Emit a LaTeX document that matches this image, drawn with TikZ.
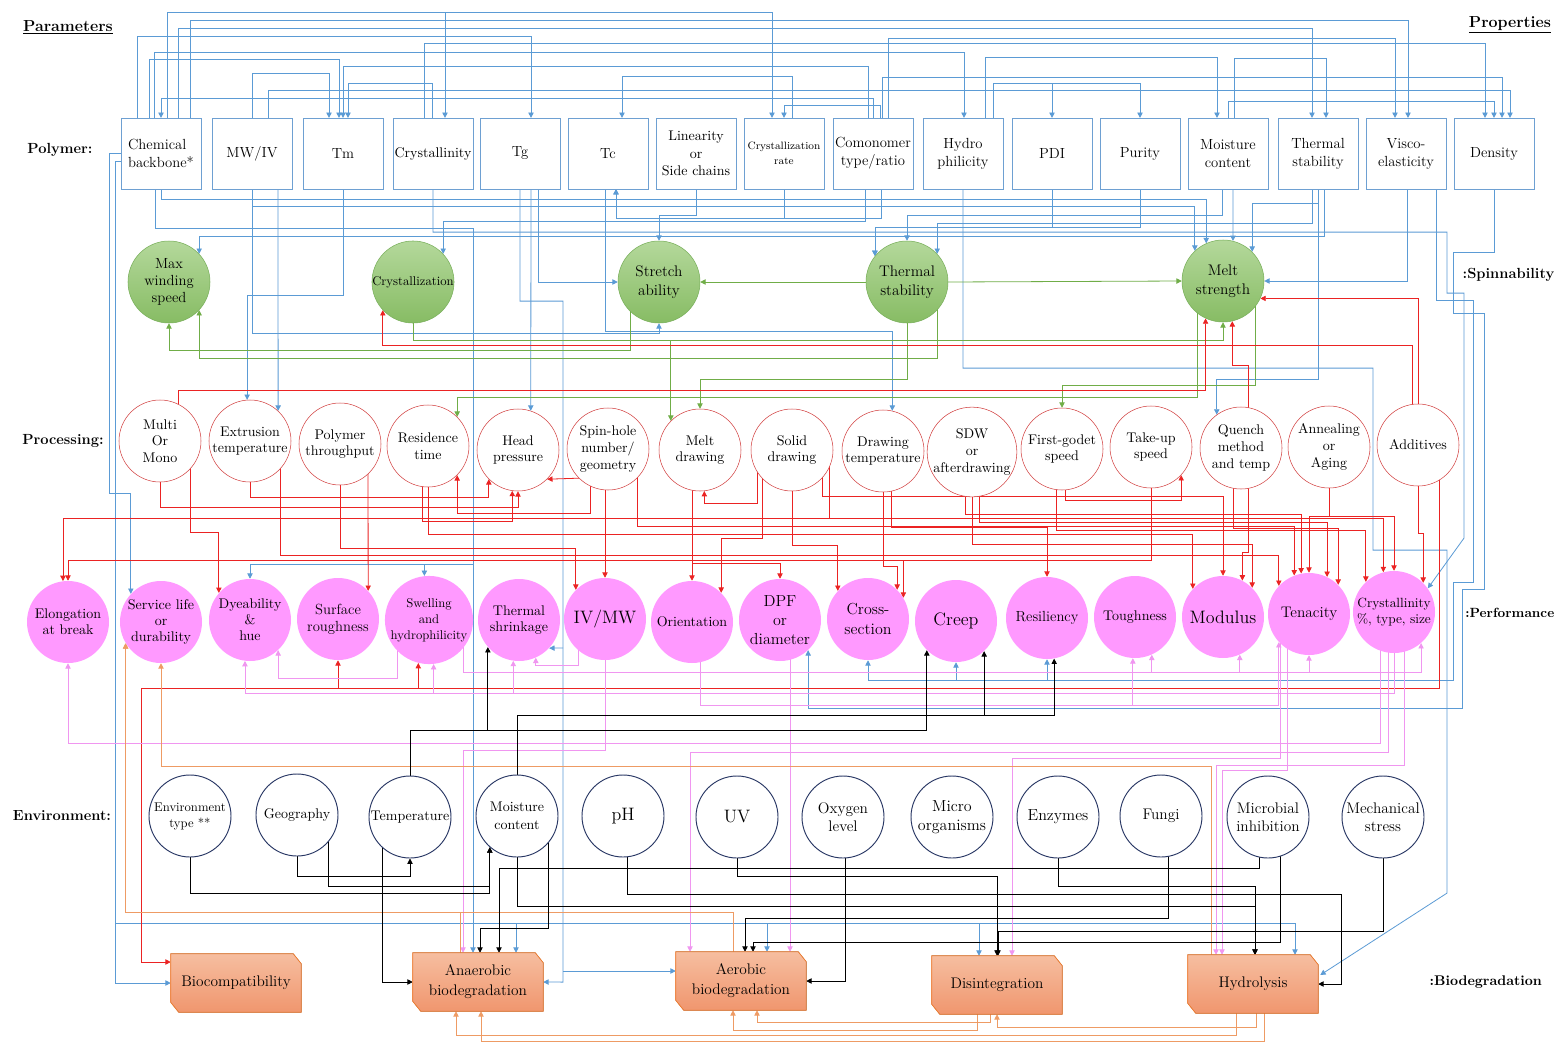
\documentclass[tikz,border=0pt]{standalone}
\usepackage{fontspec}
\usetikzlibrary{arrows.meta, calc, backgrounds}
\definecolor{wireblue}{RGB}{91,155,213}
\definecolor{boxedge}{RGB}{110,160,210}
\definecolor{spinedge}{RGB}{120,175,90}
\definecolor{spintop}{RGB}{180,216,155}
\definecolor{spinbot}{RGB}{135,188,100}
\definecolor{wiregreen}{RGB}{112,173,71}
\definecolor{procedge}{RGB}{210,65,65}
\definecolor{wirered}{RGB}{235,35,35}
\definecolor{perffill}{RGB}{255,153,255}
\definecolor{wirepink}{RGB}{240,150,240}
\definecolor{envedge}{RGB}{40,55,100}
\definecolor{biotop}{RGB}{246,190,160}
\definecolor{biobot}{RGB}{240,150,110}
\definecolor{bioedge}{RGB}{237,125,49}
\definecolor{wireorange}{RGB}{238,155,100}

\begin{document}
\begin{tikzpicture}[
    x=0.75pt, y=-0.75pt,
    >={Triangle[length=4pt,width=4pt]},
    prop/.style={rectangle, draw=boxedge, fill=white, minimum width=60pt, minimum height=53pt, inner sep=0pt, align=center, font=\fontsize{11}{13.5}\selectfont},
    spin/.style={circle, draw=spinedge, top color=spintop, bottom color=spinbot, minimum size=61.5pt, inner sep=0pt, align=center, font=\fontsize{11.5}{14}\selectfont},
    proc/.style={circle, draw=procedge, fill=white, minimum size=61.5pt, inner sep=0pt, align=center, font=\fontsize{10.5}{12.5}\selectfont},
    perf/.style={circle, fill=perffill, minimum size=61.5pt, inner sep=0pt, align=center, font=\fontsize{10.5}{12}\selectfont},
    env/.style={circle, draw=envedge, line width=0.7pt, fill=white, minimum size=61.5pt, inner sep=0pt, align=center, font=\fontsize{11.5}{13.5}\selectfont},
    bio/.style={rectangle, minimum width=97.5pt, minimum height=43.5pt, inner sep=0pt, align=center, font=\fontsize{11.5}{15}\selectfont},
    head/.style={font=\fontsize{12}{14}\selectfont\bfseries},
    row/.style={font=\fontsize{11}{13}\selectfont\bfseries},
    big/.style={font=\fontsize{13.5}{16}\selectfont},
    bw/.style={->, draw=wireblue, line width=0.6pt},
    gw/.style={->, draw=wiregreen, line width=0.6pt},
    rw/.style={->, draw=wirered, line width=0.6pt},
    kw/.style={->, draw=wirepink, line width=0.6pt},
    bk/.style={->, draw=black, line width=0.6pt},
    ow/.style={->, draw=wireorange, line width=0.6pt},
]
    \useasboundingbox (0,0) rectangle (1561,1043);

    % Headings
    \node[head] (hpar) at (68,27) {\underline{Parameters}};
    \node[head] (hpro) at (1510,25) {\underline{Properties}};
    \node[row] (rpol) at (60,150) {Polymer:};
    \node[row, anchor=west] (rspi) at (1458,275) {:Spinnability};
    \node[row] (rprc) at (63,441) {Processing:};
    \node[row, anchor=east, font=\fontsize{10}{12}\selectfont\bfseries] (rper) at (1559,613) {:Performance};
    \node[row] (renv) at (62,816) {Environment:};
    \node[row, anchor=west, font=\fontsize{10.5}{13}\selectfont\bfseries] (rbio) at (1425,982) {:Biodegradation};

    % Polymer properties
    \node[prop, align=left] (cb) at (161,153.5) {Chemical\\backbone*};
    \node[prop] (mw)  at (252,153.5) {MW/IV};
    \node[prop] (tm)  at (343,153.5) {Tm};
    \node[prop, font=\fontsize{10.5}{13}\selectfont] (cry) at (433,153.5) {Crystallinity};
    \node[prop] (tg)  at (520,153.5) {Tg};
    \node[prop] (tc)  at (608,153.5) {Tc};
    \node[prop, font=\fontsize{10.5}{13}\selectfont] (lin) at (696,153.5) {Linearity\\or\\Side chains};
    \node[prop, font=\fontsize{8}{11}\selectfont] (crr) at (784,153.5) {Crystallization\\rate};
    \node[prop] (com) at (873,153.5) {Comonomer\\type/ratio};
    \node[prop] (hyd) at (963,153.5) {Hydro\\philicity};
    \node[prop] (pdi) at (1052,153.5) {PDI};
    \node[prop] (pur) at (1140,153.5) {Purity};
    \node[prop] (moi) at (1228,153.5) {Moisture\\content};
    \node[prop] (ths) at (1318,153.5) {Thermal\\stability};
    \node[prop] (vis) at (1406,153.5) {Visco-\\elasticity};
    \node[prop] (den) at (1494,153.5) {Density};

    % Spinnability
    \node[spin, font=\fontsize{11}{12.5}\selectfont] (mws) at (169,282) {Max\\winding\\speed};
    \node[spin, font=\fontsize{9.5}{12}\selectfont] (czn) at (413,282) {Crystallization};
    \node[spin] (sta) at (659,282) {Stretch\\ability};
    \node[spin] (tst) at (907,282) {Thermal\\stability};
    \node[spin] (mst) at (1223,281) {Melt\\strength};

    % Processing
    \node[proc] (mom) at (160,441) {Multi\\Or\\Mono};
    \node[proc] (ext) at (250,441) {Extrusion\\temperature};
    \node[proc] (thp) at (340,444) {Polymer\\throughput};
    \node[proc] (rst) at (428,446) {Residence\\time};
    \node[proc] (hpr) at (518,450) {Head\\pressure};
    \node[proc] (shn) at (608,449) {Spin-hole\\number/\\geometry};
    \node[proc] (mdr) at (700,450) {Melt\\drawing};
    \node[proc] (sdr) at (792,450) {Solid\\drawing};
    \node[proc] (dtp) at (883,451) {Drawing\\temperature};
    \node[proc] (sdw) at (972,452) {SDW\\or\\afterdrawing};
    \node[proc] (fgs) at (1062,449) {First-godet\\speed};
    \node[proc] (tus) at (1151,447) {Take-up\\speed};
    \node[proc] (qmt) at (1241,448) {Quench\\method\\and temp};
    \node[proc] (ana) at (1329,447) {Annealing\\or\\Aging};
    \node[proc] (add) at (1418,445) {Additives};

    % Performance
    \node[perf] (elb) at (68,622) {Elongation\\at break};
    \node[perf] (svl) at (161,622) {Service life\\or\\durability};
    \node[perf] (dye) at (250,620) {Dyeability\\\&\\hue};
    \node[perf, font=\fontsize{11}{13}\selectfont] (srf) at (338,619) {Surface\\roughness};
    \node[perf, font=\fontsize{9.5}{12}\selectfont] (swl) at (429,620) {Swelling\\and\\hydrophilicity};
    \node[perf] (tsk) at (519,620) {Thermal\\shrinkage};
    \node[perf, big] (ivm) at (605,619) {IV/MW};
    \node[perf] (ori) at (692,622) {Orientation};
    \node[perf, font=\fontsize{12}{14}\selectfont] (dpf) at (780,620) {DPF\\or\\diameter};
    \node[perf, font=\fontsize{12}{15}\selectfont] (crs) at (868,619) {Cross-\\section};
    \node[perf, big] (crp) at (956,621) {Creep};
    \node[perf, font=\fontsize{11}{13}\selectfont] (rsl) at (1047,618) {Resiliency};
    \node[perf] (tgh) at (1135,617) {Toughness};
    \node[perf, big] (mdl) at (1223,617) {Modulus};
    \node[perf, font=\fontsize{11.5}{13}\selectfont] (tnc) at (1309,614) {Tenacity};
    \node[perf, font=\fontsize{10}{12}\selectfont] (cpc) at (1394,612) {Crystallinity\\\%, type, size};

    % Environment
    \node[env, font=\fontsize{9.5}{12}\selectfont] (ent) at (190,816) {Environment\\type **};
    \node[env, font=\fontsize{10.5}{13}\selectfont] (geo) at (297,815) {Geography};
    \node[env, font=\fontsize{10.5}{13}\selectfont] (tem) at (410,817) {Temperature};
    \node[env, font=\fontsize{10.5}{13.5}\selectfont] (emc) at (517,816) {Moisture\\content};
    \node[env, big] (eph) at (623,816) {pH};
    \node[env, big] (euv) at (737,817) {UV};
    \node[env] (oxy) at (843,817) {Oxygen\\level};
    \node[env, font=\fontsize{12}{14}\selectfont] (mic) at (952,817) {Micro\\organisms};
    \node[env, font=\fontsize{12}{14}\selectfont] (enz) at (1058,817) {Enzymes};
    \node[env] (fun) at (1161,816) {Fungi};
    \node[env] (mbi) at (1268,817) {Microbial\\inhibition};
    \node[env] (mec) at (1383,817) {Mechanical\\stress};

    % Biodegradation
    \node[bio] (bcp) at (236,983) {Biocompatibility};
    \node[bio] (anb) at (478,982) {Anaerobic\\biodegradation};
    \node[bio] (aeb) at (741,981) {Aerobic\\biodegradation};
    \node[bio] (dsi) at (997,985) {Disintegration};
    \node[bio] (hyl) at (1253,984) {Hydrolysis};

    \begin{scope}[on background layer]
    \fill[white] (0,0) rectangle (1561,1043);

    % Polymer -> polymer
    \draw[bw] ($(cb.north)+(6,0)$) -- ++(0,-106) -| ($(crr.north)+(-12,0)$);
    \draw[bw] ($(cb.north)+(6,0)$) -- ++(0,-106) -| ($(cry.north)+(12,0)$);
    \draw[bw] ($(cb.north)+(29,0)$) -- ++(0,-98) -| ($(vis.north)+(2,0)$);
    \draw[bw] ($(cb.north)+(17,0)$) -- ++(0,-90) -| ($(ths.north)+(-6,0)$);
    \draw[bw] ($(cb.north)+(-24,0)$) -- ++(0,-82) -| ($(tg.north)+(11,0)$);
    \draw[bw] ($(cry.north)+(-9,0)$) -- ++(0,-75) -| ($(den.north)+(-9,0)$);
    \draw[bw] ($(com.north)+(15,0)$) -- ++(0,-80) -| ($(vis.north)+(-11,0)$);
    \draw[bw] ($(cb.north)+(-7,0)$) -- ++(0,-66) -| ($(hyd.north)+(1,0)$);
    \draw[bw] ($(cb.north)+(-12,0)$) -- ++(0,-59) -| ($(tm.north)+(-4,0)$);
    \draw[bw] ($(hyd.north)+(22,0)$) -- ++(0,-61) -| ($(moi.north)+(-11,0)$);
    \draw[bw] (mw.north) -- ++(0,-45) -| ($(tm.north)+(-14,0)$);
    \draw[bw] ($(cry.north)+(-1,0)$) -- ++(0,-35) -| ($(tm.north)+(5,0)$);
    \draw[bw] (com.north) -- ++(0,-20) -| (cb.north);
    \draw[bw] ($(crr.north)+(8,0)$) -- ++(0,-42) -| ($(tc.north)+(14,0)$);
    \draw[bw] ($(com.north)+(7,0)$) -- ++(0,-13) -| (crr.north);
    \draw[bw] ($(com.north)+(-5,0)$) -- ++(0,-52) -| (tm.north);
    \draw[bw] ($(mw.north)+(16,0)$) -- ++(0,-28) -| ($(den.north)+(16,0)$);
    \draw[bw] ($(com.north)+(9,0)$) -- ++(0,-41) -| ($(den.north)+(8,0)$);
    \draw[bw] ($(moi.north)+(6,0)$) -- ++(0,-60) -| ($(ths.north)+(8,0)$);
    \draw[bw] (moi.north) -- ++(0,-17) -| (den.north);
    \draw[bw] ($(hyd.north)+(30,0)$) -- ++(0,-35) -| (pdi.north);
    \draw[bw] ($(hyd.north)+(30,0)$) -- ++(0,-35) -| (pur.north);

    % Polymer -> spinnability, processing, performance
    \draw[bw] (cb.south) -- ++(0,10) -| (mst.114);
    \draw[bw] (mw.south) -- ++(0,17) -| (mst.133);
    \draw[bw] ($(moi.south)+(5,0)$) -- (mst.76);
    \draw[bw] (ths.south) -- ++(0,14) -| (mst.45);
    \draw[bw] ($(vis.south)+(1,0)$) |- (mst.east);
    \draw[bw] (pdi.south) -- ++(0,38) -| (tst.141);
    \draw[bw] (pur.south) -- ++(0,38) -| (tst.141);
    \draw[bw] ($(moi.south)+(-6,0)$) -- ++(0,26) -| (tst.north);
    \draw[bw] ($(ths.south)+(-6,0)$) -- ++(0,34) -| (tst.43);
    \draw[bw] (crr.south) -- ++(0,29) -| ($(tc.south)+(8,0)$);
    \draw[bw] ($(com.south)+(8,0)$) -- ++(0,29) -| ($(tc.south)+(8,0)$);
    \draw[bw] (lin.south) -- ++(0,26) -| (sta.north);
    \draw[bw] ($(tg.south)+(18,0)$) |- (sta.west);
    \draw[bw] (cry.south) -- ++(0,43) -| ++(1014,61) -| ++(17,245) -- (cpc.35);
    \draw[bw] ($(com.south)+(-8,0)$) -- ++(0,32) -| (czn.43);
    \draw[bw] ($(ths.south)+(6,0)$) -- ++(0,47) -| (mws.43);
    \draw[bw] (tm.south) -- ++(0,106) -| (ext.94);
    \draw[bw] ($(tg.south)+(11,0)$) -- (hpr.72);
    \draw[bw] ($(tc.south)+(-3,0)$) -- ++(0,142) -| (dtp.77);
    \draw[bw] (cb.west) -- ++(-11,0) -- ++(0,340) -| (svl.137);
    \draw[bw] ($(cb.west)+(0,8)$) -- ++(-5,0) |- (bcp.west);
    \coordinate (jl) at (116,923);
    \draw[bw] (jl) -| ($(anb.north)+(38,0)$);
    \draw[bw] (jl) -| ($(aeb.north)+(26,0)$);
    \draw[bw] (jl) -| ($(dsi.north)+(-18,0)$);
    \draw[bw] (jl) -| ($(hyl.north)+(42,0)$);
    \draw[bw] ($(cb.south)+(-6,0)$) -- ++(0,39) -| ($(anb.north)+(-5,0)$);
    \coordinate (jb) at (473,564);
    \draw[bw] (jb) -| (dye.north);
    \draw[bw] (jb) -| (swl.96);
    \draw[bw] (tg.south) -- ++(0,112) -| ++(43,681) -- (anb.east);
    \coordinate (jt1) at (563,648);
    \coordinate (jt2) at (563,971);
    \draw[bw] (jt1) -- (tsk.317);
    \draw[bw] (jt2) -- ($(aeb.west)+(0,-10)$);
    \draw[bw] (hyd.south) -- ++(0,179) -| ++(410,182) -| ++(74,343) -- ($(hyl.east)+(2,-9)$);
    \draw[bw] ($(vis.south)+(30,0)$) -- ++(0,111) -| ++(37,282) -| ++(-20,98) -| (crs.south);
    \coordinate (jv) at (1453,680);
    \draw[bw] (jv) -| (crp.south);
    \draw[bw] (jv) -| (rsl.south);
    \draw[bw] (den.south) -- ++(0,63) -| ++(-41,61) -| ++(31,276) -| ++(-22,119) -| (dpf.313);
    \draw[bw] (ths.south) |- ($(qmt.126)+(0,-35)$) -- (qmt.126);
    \draw[bw] ($(mw.south)+(26,0)$) -- (ext.47);
    \draw[bw] (mw.south) -- ++(0,144) -| (sta.south);

    % Spinnability links
    \draw[gw] (tst.west) -- (sta.east);
    \draw[gw] (tst.east) -- (mst.west);
    \draw[gw] ($(sta)+(-29,0)$) |- ($(mws.south)+(0,27)$) -- (mws.south);
    \draw[gw] ($(tst)+(30,0)$) |- ($(mws.317)+(0,48)$) -- (mws.317);
    \draw[gw] (tst.south) |- ($(mdr.north)+(0,-29)$) -- (mdr.north);
    \draw[gw] (czn.south) -- ++(0,17) -| (mst.south);
    \draw[gw] (czn.south) -- ++(0,17) -| (mdr.135);
    \draw[gw] ($(mst)+(32,0)$) |- ($(fgs.north)+(0,-22)$) -- (fgs.north);
    \draw[gw] ($(mst)+(-26,0)$) |- ($(rst.45)+(0,-19)$) -- (rst.45);

    % Processing links
    \draw[rw] ($(mom)+(18,0)$) |- ($(mst.245)+(0,72)$) -- (mst.245);
    \draw[rw] (add) |- (mst.335);
    \draw[rw] ($(qmt)+(7,0)$) |- ($(mst.283)+(0,44)$) -- (mst.283);
    \draw[rw] ($(add)+(-6,0)$) |- ($(czn.223)+(0,35)$) -- (czn.223);
    \draw[rw] (mom) -- ++(0,66) -| (hpr.south);
    \draw[rw] ($(mom)+(30,0)$) -- ++(0,91) -| (dye.139);
    \draw[rw] (ext) -- ++(0,56) -| (hpr.225);
    \draw[rw] ($(ext)+(30,0)$) -- ++(0,114) -| (tnc.137);
    \draw[rw] ($(thp)+(28,0)$) -- (srf.43);
    \draw[rw] (thp) -- ++(0,104) -| (ivm.135);
    \draw[rw] ($(rst)+(-6,0)$) -- ++(0,75) -| (hpr.262);
    \draw[rw] (rst) -- ++(0,88) -| (mdl.137);
    \draw[rw] ($(shn)+(-18,0)$) -- ++(0,64) -| (rst.315);
    \draw[rw] (shn.south west) -- (hpr.south east);
    \draw[rw] ($(shn)+(-3,0)$) -- (ivm.north);
    \draw[rw] ($(shn)+(29,0)$) -- ++(0,77) -| (tnc.111);
    \draw[rw] ($(mdr)+(-8,0)$) -- ++(0,113) -| (dpf.north);
    \draw[rw] ($(mdr)+(-8,0)$) -- (ori.north);
    \draw[rw] ($(sdr)+(-35,0)$) -- ++(0,53) -| (mdr.276);
    \draw[rw] ($(sdr)+(-30,0)$) -- ++(0,88) -| (ori.45);
    \draw[rw] (sdr) -- ++(0,95) -| (crs.137);
    \draw[rw] ($(sdr)+(30,0)$) -- ++(0,46) -| (mdl.north);
    \draw[rw] ($(sdr)+(37,0)$) -- ++(0,68) -| (elb.97);
    \draw[rw] ($(sdr)+(37,0)$) -- ++(0,68) -| (cpc.105);
    \draw[rw] (dtp) -- ++(0,115) -| (crs.45);
    \draw[rw] ($(dtp)+(8,0)$) -- ++(0,76) -| (rsl.north);
    \draw[rw] ($(sdw)+(-7,0)$) -- ++(0,62) -| (tnc.101);
    \draw[rw] (sdw) -- ++(0,92) -| (mdl.45);
    \draw[rw] ($(sdw)+(7,0)$) -- ++(0,70) -| (tnc.64);
    \draw[rw] ($(fgs)+(3,0)$) -- ++(0,51) -| (tus.317);
    \draw[rw] ($(fgs)+(-6,0)$) -- ++(0,81) -| (cpc.133);
    \draw[rw] (tus) -- ++(0,113) -| (elb.north);
    \draw[rw] (tus) -- ++(0,113) -| (crs.31);
    \draw[rw] ($(qmt)+(7,0)$) -- ++(0,104) -| (mdl.62);
    \draw[rw] ($(qmt)+(-8,0)$) -- ++(0,80) -| (tnc.45);
    \draw[rw] (ana) -- ++(0,69) -| (tnc.north);
    \draw[rw] (ana) -- ++(0,69) -| (cpc.north);
    \draw[rw] (add) -- ++(0,88) -| (cpc.45);
    \draw[rw] ($(add)+(21,0)$) -- ++(0,243) -| (srf.south);
    \draw[rw] ($(add)+(21,0)$) -- ++(0,243) -| (swl.256);
    \draw[rw] ($(add)+(21,0)$) -- ++(0,243) -| ($(bcp.west)+(-29,-21)$) -- ($(bcp.west)+(0,-21)$);

    % Performance links
    \draw[kw] ($(cpc)+(-14,0)$) -- ++(0,131) -| (elb.south);
    \draw[kw] ($(swl)+(-32,0)$) -- ++(0,58) -| (dye.313);
    \draw[kw] (cpc) -- ++(0,81) -| (dye.263);
    \draw[kw] (cpc) -- ++(0,81) -| (swl.276);
    \draw[kw] (cpc) -- ++(0,81) -| (tsk.262);
    \draw[kw] ($(ivm)+(-27,0)$) -- ++(0,46) -| (tsk.294);
    \draw[kw] ($(ori)+(8,0)$) -- ++(0,83) -| (tgh.267);
    \draw[kw] ($(ori)+(8,0)$) -- ++(0,83) -| (tnc.223);
    \draw[kw] ($(swl)+(34,0)$) -- ++(0,52) -| (tgh.294);
    \draw[kw] ($(swl)+(34,0)$) -- ++(0,52) -| (mdl.294);
    \draw[kw] ($(swl)+(34,0)$) -- ++(0,52) -| (tnc.south);
    \draw[kw] ($(swl)+(34,0)$) -- ++(0,52) -| (cpc.311);
    \draw[kw] (ivm) -- ++(0,131) -| ($(anb.north)+(-15,0)$);
    \draw[kw] ($(cpc)+(-6,0)$) -- ++(0,140) -| ($(aeb.north)+(-51,0)$);
    \draw[kw] ($(dpf)+(10,0)$) -- ($(aeb.north)+(49,0)$);
    \draw[kw] ($(tnc)+(-29,0)$) -- ++(0,144) -| ($(dsi.north)+(15,0)$);
    \draw[kw] ($(cpc)+(10,0)$) -- ++(0,153) -| ($(hyl.north)+(-37,0)$);
    \draw[kw] ($(tnc)+(-22,0)$) -- ++(0,156) -| ($(hyl.north)+(-31,0)$);

    % Biodegradation links
    \draw[ow] ($(hyl.south)+(-17,0)$) -- ++(0,22) -| ($(anb.south)+(-22,0)$);
    \draw[ow] ($(hyl.south)+(3,0)$) -- ++(0,14) -| (dsi.south);
    \draw[ow] ($(dsi.south)+(-20,0)$) -- ++(0,16) -| ($(aeb.south)+(-8,0)$);
    \draw[ow] ($(dsi.south)+(-7,0)$) -- ++(0,8) -| ($(aeb.south)+(16,0)$);
    \draw[ow] ($(hyl.south)+(11,0)$) -- ++(0,28) -| ($(anb.south)+(3,0)$);
    \draw[ow] ($(aeb.north)+(-8,0)$) -- ++(0,-39) -| (svl.211);
    \draw[ow] ($(anb.north)+(-18,0)$) -- ++(0,-40) -| (svl.211);
    \draw[ow] ($(hyl.north)+(-42,0)$) -- ++(0,-188) -| (svl.south);

    % Environment links
    \draw[bk] (tem) -- ++(0,-87) -| (tsk.221);
    \draw[bk] (tem) -- ++(0,-87) -| (crp.225);
    \draw[bk] (emc) -- ++(0,-101) -| (crp.313);
    \draw[bk] (emc) -- ++(0,-101) -| (rsl.280);
    \draw[bk] (ent) -- ++(0,77) -| (emc.229);
    \draw[bk] (geo) -- ++(0,61) -| (tem.south);
    \draw[bk] ($(geo)+(31,0)$) -- ++(0,71) -| (emc.229);
    \draw[bk] ($(tem)+(-28,0)$) |- (anb.west);
    \draw[bk] (emc) -- ++(0,90) -| ($(hyl.north)+(2,0)$);
    \draw[bk] ($(emc)+(31,0)$) -- ++(0,112) -| ($(anb.north)+(2,0)$);
    \draw[bk] ($(mbi)+(-9,0)$) -- ++(0,51) -| ($(anb.north)+(21,0)$);
    \draw[bk] ($(eph)+(4,0)$) -- ++(0,78) -- ++(714,0) |- (hyl.east);
    \draw[bk] (euv) -- ++(0,59) -| (dsi.north);
    \draw[bk] ($(oxy)+(2,0)$) |- (aeb.east);
    \draw[bk] (enz) -- ++(0,69) -| ($(hyl.north)+(2,0)$);
    \draw[bk] ($(fun)+(7,0)$) -- ++(0,102) -| ($(aeb.north)+(4,0)$);
    \draw[bk] ($(mbi)+(12,0)$) -- ++(0,125) -| ($(aeb.north)+(12,0)$);
    \draw[bk] (mec) -- ++(0,114) -| ($(dsi.north)+(1,0)$);

    % Snipped boxes
    \foreach \b in {bcp,anb,aeb,dsi,hyl}
      \filldraw[draw=bioedge, top color=biotop, bottom color=biobot, line width=0.6pt]
        (\b.north west) -- ($(\b.north east)+(-8,0)$) -- ($(\b.north east)+(0,10)$)
        -- (\b.south east) -- ($(\b.south west)+(8,0)$) -- ($(\b.south west)+(0,-10)$) -- cycle;
    \end{scope}

\end{tikzpicture}
\end{document}
